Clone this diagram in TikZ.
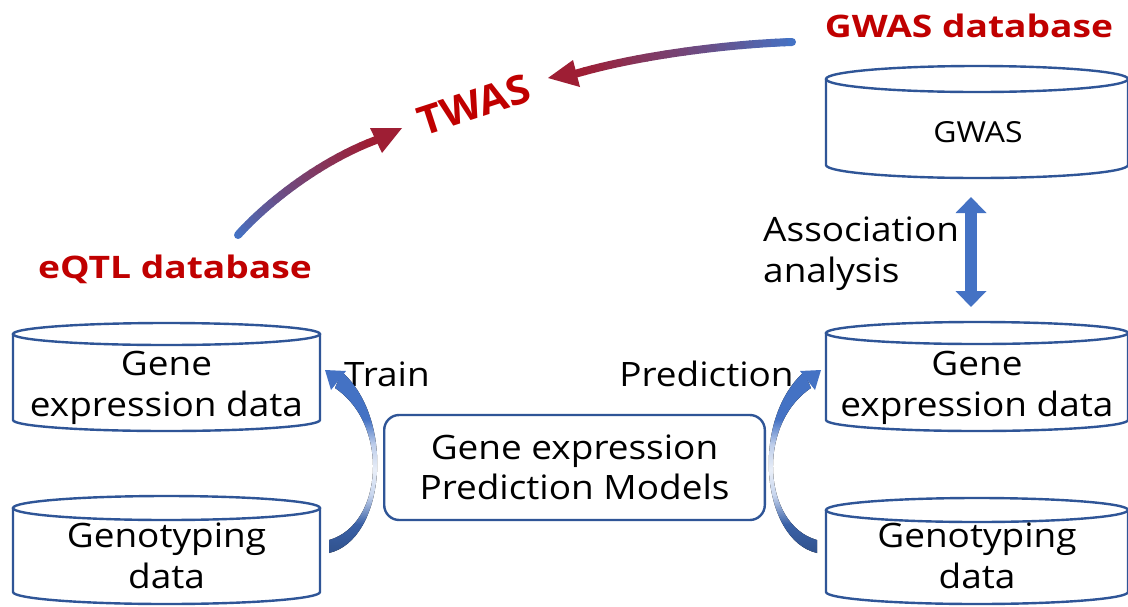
\documentclass[tikz,border=0pt]{standalone}
\usepackage{fontspec}
\setmainfont{Open Sans}
\usetikzlibrary{arrows.meta,calc}

\definecolor{dbline}{RGB}{47,85,151}
\definecolor{flowblue}{RGB}{68,114,196}
\definecolor{flowred}{RGB}{158,30,52}
\definecolor{labelred}{RGB}{192,0,0}

% fill for the curved flow arrows: darker foot, pale waist, blue top
% (25bp = bottom of the filled path, 75bp = its top)
\pgfdeclareverticalshading{crescentshade}{100bp}{%
  color(0bp)=(flowblue!72!black); color(25bp)=(flowblue!72!black);
  color(33bp)=(flowblue!85!black); color(41bp)=(flowblue!30);
  color(48bp)=(flowblue!12); color(55bp)=(flowblue!35);
  color(62bp)=(flowblue); color(100bp)=(flowblue)}

% database drum: name, centre x, x radius, top rim y, bottom rim y, rim y radius
% (all in pixels, y counted downwards)
\newcommand\dbdrum[6]{%
  \draw[dbstyle] ({#2-#3},{-#4}) -- ({#2-#3},{-#5})
    arc[start angle=180,end angle=360,x radius=#3pt,y radius=#6pt]
    -- ({#2+#3},{-#4});
  \draw[dbstyle] (#2,{-#4}) ellipse[x radius=#3pt,y radius=#6pt];
  \coordinate (#1-top) at (#2,{-#4+#6});
  \coordinate (#1-bottom) at (#2,{-#5-#6});
  \coordinate (#1-mid) at (#2,{-(#4+#5)/2});
}

\tikzset{
  dbstyle/.style={draw=dbline,line width=2.4pt},
  txt/.style={font=\fontsize{33.6}{41}\selectfont,inner sep=0pt,xscale=1.1,align=center},
  dbtitle/.style={font=\bfseries\fontsize{31}{37}\selectfont,text=labelred,inner sep=0pt,xscale=1.2},
  modelbox/.style={draw=dbline,line width=2.4pt,rounded corners=15pt,inner sep=0pt,
    minimum width=346pt,minimum height=105pt,xscale=1.1,align=center,
    font=\fontsize{33.6}{40}\selectfont},
  flowseg/.style={line width=8pt,line cap=round},
  crescent/.style={shading=crescentshade},
  assoc/.style={line width=12pt,draw=flowblue,
    {Triangle[length=16pt,width=30pt]}-{Triangle[length=16pt,width=30pt]}},
}

\begin{document}
\begin{tikzpicture}[x=1pt,y=1pt]
\useasboundingbox (0,0) rectangle (1128,-606);
\fill[white] (0,0) rectangle (1128,-606);

% ---- databases ----
\dbdrum{geneL}{166.5}{153.5}{334}{420}{11}
\dbdrum{genoL}{166.5}{153.5}{508}{592}{12}
\dbdrum{geneR}{977}{151}{333}{420}{11}
\dbdrum{genoR}{977}{151}{510}{592}{12}
\dbdrum{gwasdb}{977}{151}{79}{165}{13}

\node[txt] (geneLtxt) at (166.5,-388) {Gene\\expression data};
\node[txt] (genoLtxt) at (166.5,-556) {Genotyping\\data};
\node[txt] (geneRtxt) at (977,-388) {Gene\\expression data};
\node[txt] (genoRtxt) at (977,-556) {Genotyping\\data};
\node[txt,font=\fontsize{29}{34}\selectfont,anchor=base] (gwastxt) at (978,-142) {GWAS};

% ---- prediction model ----
\node[modelbox] (model) at (574.5,-467.5) {Gene expression\\Prediction Models};

% ---- labels ----
\node[dbtitle,anchor=base] (gwaslabel) at (969,-37) {GWAS database};
\node[dbtitle,anchor=base] (eqtllabel) at (175,-278) {eQTL database};
\node[font=\bfseries\fontsize{40}{48}\selectfont,text=labelred,inner sep=0pt,
      rotate=18,xscale=1.05] (twas) at (474,-105) {TWAS};

\node[txt,anchor=base] (trainlbl) at (387,-386) {Train};
\node[txt,anchor=base] (predlbl) at (706.5,-386) {Prediction};
\node[txt,anchor=west,align=left] (assoclbl) at (763,-254) {Association\\analysis};

% ---- association double arrow ----
\coordinate (assoc-a) at (971,-197);
\coordinate (assoc-b) at (971,-307);
\draw[assoc] (assoc-a) -- (assoc-b);

% ---- eQTL -> TWAS gradient arrow ----
\coordinate (eq-tail) at (238,-235);
\coordinate (eq-end) at (376,-140);
\coordinate (eq-tip) at (402,-128);
\coordinate (eq-w1) at (370,-128);
\coordinate (eq-w2) at (382,-153);
\path (eq-tail) .. controls (262,-208) and (315,-163) .. (eq-end)
  \foreach \k [evaluate=\k as \t using \k/24] in {0,...,24} {coordinate[pos=\t] (ea\k)};
\foreach \k [evaluate=\k as \n using int(\k+1), evaluate=\k as \c using int(100-100*\k/23)] in {0,...,23}
  \draw[flowseg,color=flowblue!\c!flowred] (ea\k) -- (ea\n);
\fill[flowred] (eq-tip) -- (eq-w1) -- (eq-w2) -- cycle;

% ---- GWAS -> TWAS gradient arrow ----
\coordinate (gw-tail) at (792,-42);
\coordinate (gw-end) at (576.5,-73.5);
\coordinate (gw-tip) at (548,-78);
\coordinate (gw-w1) at (573,-60);
\coordinate (gw-w2) at (580,-87);
\path (gw-tail) .. controls (730,-44) and (640,-55) .. (gw-end)
  \foreach \k [evaluate=\k as \t using \k/24] in {0,...,24} {coordinate[pos=\t] (ga\k)};
\foreach \k [evaluate=\k as \n using int(\k+1), evaluate=\k as \c using int(100-100*\k/23)] in {0,...,23}
  \draw[flowseg,color=flowblue!\c!flowred] (ga\k) -- (ga\n);
\fill[flowred] (gw-tip) -- (gw-w1) -- (gw-w2) -- cycle;

% ---- training arrow (genotypes -> expression, left) ----
\coordinate (train-from-o) at (329,-553);
\coordinate (train-from-i) at (329,-540);
\coordinate (train-to-o) at (342,-372);
\coordinate (train-to-i) at (335,-388);
\fill[crescent] (train-from-o) .. controls (385,-540) and (396,-420) .. (train-to-o)
  -- (train-to-i) .. controls (390,-425) and (383,-525) .. (train-from-i) -- cycle;
\fill[flowblue] (325,-370) -- (346,-371) -- (331,-390) -- cycle;

% ---- prediction arrow (genotypes -> expression, right), mirror image ----
\begin{scope}[shift={(1146,0)},xscale=-1]
\coordinate (pred-from-o) at (329,-553);
\coordinate (pred-from-i) at (329,-540);
\coordinate (pred-to-o) at (342,-372);
\coordinate (pred-to-i) at (335,-388);
\fill[crescent] (pred-from-o) .. controls (385,-540) and (396,-420) .. (pred-to-o)
  -- (pred-to-i) .. controls (390,-425) and (383,-525) .. (pred-from-i) -- cycle;
\fill[flowblue] (325,-370) -- (346,-371) -- (331,-390) -- cycle;
\end{scope}
\end{tikzpicture}
\end{document}
